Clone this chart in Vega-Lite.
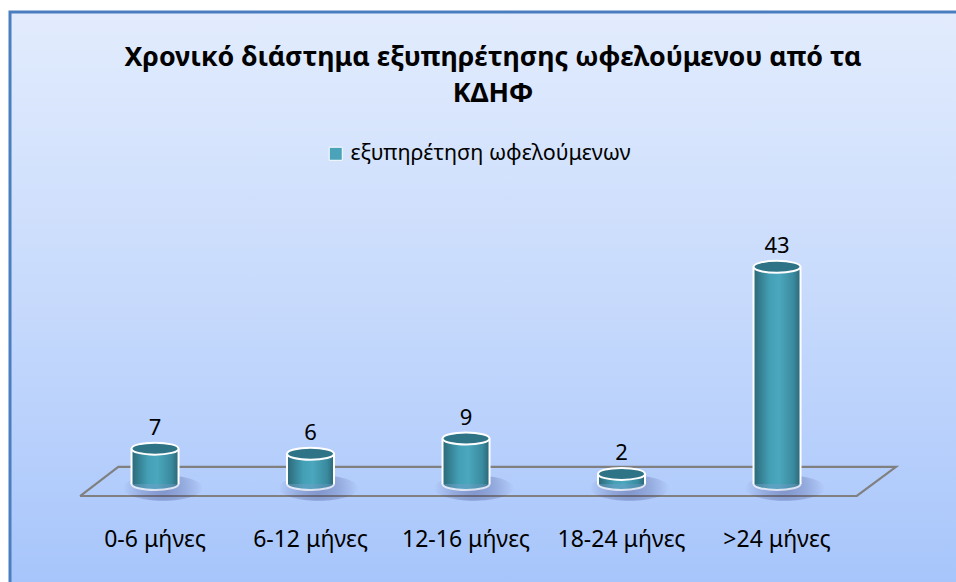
{
  "$schema": "https://vega.github.io/schema/vega-lite/v6.json",
  "autosize": {"type": "none"},
  "padding": {"left": 10, "top": 12, "right": 0, "bottom": 0},
  "width": 950,
  "height": 575,
  "background": "#ffffff",
  "title": {
    "text": ["Χρονικό διάστημα εξυπηρέτησης ωφελούμενου από τα", "ΚΔΗΦ"],
    "font": "Noto Sans",
    "fontSize": 26.8,
    "fontWeight": "bold",
    "color": "#000000",
    "anchor": "middle",
    "frame": "group",
    "orient": "top",
    "baseline": "top",
    "lineHeight": 36,
    "offset": -96,
    "dx": 8
  },
  "datasets": {
    "main": [
      {"cat": "0-6 μήνες", "value": 7, "series": "εξυπηρέτηση ωφελούμενων"},
      {"cat": "6-12 μήνες", "value": 6, "series": "εξυπηρέτηση ωφελούμενων"},
      {"cat": "12-16 μήνες", "value": 9, "series": "εξυπηρέτηση ωφελούμενων"},
      {"cat": "18-24 μήνες", "value": 2, "series": "εξυπηρέτηση ωφελούμενων"},
      {"cat": ">24 μήνες", "value": 43, "series": "εξυπηρέτηση ωφελούμενων"}
    ],
    "floor": [
      {"pos": -0.482, "level": -2.38, "k": 1},
      {"pos": 4.513, "level": -2.38, "k": 2},
      {"pos": 4.765, "level": 3.37, "k": 3},
      {"pos": -0.236, "level": 3.37, "k": 4},
      {"pos": -0.482, "level": -2.38, "k": 5}
    ]
  },
  "resolve": {"scale": {"x": "independent"}},
  "layer": [
    {
      "data": {"name": "floor"},
      "mark": {"type": "line", "stroke": "#808080", "strokeWidth": 2.2, "clip": false},
      "encoding": {
        "x": {"field": "pos", "type": "quantitative", "axis": null,
              "scale": {"domain": [-0.9325, 5.1768], "nice": false, "zero": false}},
        "y": {"field": "level", "type": "quantitative", "axis": null,
              "scale": {"domain": [-20.4, 93.47], "nice": false, "zero": false}},
        "order": {"field": "k", "type": "quantitative"}
      }
    },
    {
      "data": {"name": "main"},
      "encoding": {
        "x": {
          "field": "cat", "type": "nominal", "sort": null,
          "scale": {"paddingInner": 0, "paddingOuter": 0.5547, "align": 0.39},
          "axis": {
            "title": null, "orient": "bottom", "offset": -59, "ticks": false, "domain": false,
            "labelAngle": 0, "labelPadding": 0, "labelFont": "Noto Sans", "labelFontSize": 23,
            "labelColor": "#000000", "labelBaseline": "top", "grid": false
          }
        }
      },
      "layer": [
        {
          "mark": {"type": "point", "filled": true, "opacity": 0, "size": 10},
          "encoding": {
            "y": {"datum": 0, "type": "quantitative", "axis": null,
                  "scale": {"domain": [-20.4, 93.47], "nice": false, "zero": false}},
            "color": {
              "field": "series", "type": "nominal",
              "scale": {"range": ["#4aa3b9"]},
              "legend": {
                "title": null, "orient": "none", "legendX": 315, "legendY": 131,
                "symbolType": "square", "symbolSize": 170, "symbolOpacity": 1,
                "symbolStrokeColor": "#ffffff", "symbolStrokeWidth": 1,
                "labelFont": "Noto Sans", "labelFontSize": 21.5, "labelColor": "#000000",
                "labelOffset": 4, "labelLimit": 500
              }
            }
          }
        },
        {
          "mark": {
            "type": "point", "filled": true, "size": 6400,
            "shape": "M-1,0A1,0.32,0,1,0,1,0A1,0.32,0,1,0,-1,0Z",
            "xOffset": 8, "yOffset": 4,
            "fill": {
              "gradient": "radial",
              "stops": [
                {"offset": 0, "color": "rgba(45,55,120,0.55)"},
                {"offset": 0.55, "color": "rgba(45,55,120,0.3)"},
                {"offset": 1, "color": "rgba(45,55,120,0)"}
              ]
            }
          },
          "encoding": {"y": {"datum": 0, "type": "quantitative"}}
        },
        {
          "mark": {
            "type": "point", "filled": true, "size": 2209,
            "shape": "M-1,0A1,0.255,0,1,0,1,0A1,0.255,0,1,0,-1,0Z",
            "stroke": "#ffffff", "strokeWidth": 2, "strokeOpacity": 1,
            "fill": {
              "gradient": "linear", "x1": 0, "y1": 0, "x2": 1, "y2": 0,
              "stops": [
                {"offset": 0, "color": "#2b6878"},
                {"offset": 0.35, "color": "#44a0b6"},
                {"offset": 0.55, "color": "#4aa7bd"},
                {"offset": 0.85, "color": "#3a8a9e"},
                {"offset": 1, "color": "#2a6575"}
              ]
            }
          },
          "encoding": {"y": {"datum": 0, "type": "quantitative"}}
        },
        {
          "mark": {
            "type": "bar", "width": 47,
            "fill": {
              "gradient": "linear", "x1": 0, "y1": 0, "x2": 1, "y2": 0,
              "stops": [
                {"offset": 0, "color": "#2b6878"},
                {"offset": 0.35, "color": "#44a0b6"},
                {"offset": 0.55, "color": "#4aa7bd"},
                {"offset": 0.85, "color": "#3a8a9e"},
                {"offset": 1, "color": "#2a6575"}
              ]
            }
          },
          "encoding": {
            "y": {"field": "value", "type": "quantitative"},
            "y2": {"datum": 0}
          }
        },
        {
          "mark": {"type": "rule", "stroke": "#ffffff", "strokeWidth": 2, "xOffset": -23.5},
          "encoding": {
            "y": {"field": "value", "type": "quantitative"},
            "y2": {"datum": 0}
          }
        },
        {
          "mark": {"type": "rule", "stroke": "#ffffff", "strokeWidth": 2, "xOffset": 23.5},
          "encoding": {
            "y": {"field": "value", "type": "quantitative"},
            "y2": {"datum": 0}
          }
        },
        {
          "mark": {
            "type": "point", "filled": true, "size": 2209,
            "shape": "M-1,0A1,0.255,0,1,0,1,0A1,0.255,0,1,0,-1,0Z",
            "stroke": "#ffffff", "strokeWidth": 2, "strokeOpacity": 1,
            "fill": "#2f7486", "opacity": 1
          },
          "encoding": {"y": {"field": "value", "type": "quantitative"}}
        },
        {
          "mark": {"type": "text", "font": "Noto Sans", "fontSize": 22, "color": "#000000",
                   "baseline": "middle", "dy": -21},
          "encoding": {
            "y": {"field": "value", "type": "quantitative"},
            "text": {"field": "value", "type": "quantitative"}
          }
        }
      ]
    }
  ],
  "config": {
    "view": {
      "stroke": "#4a7ebf",
      "strokeWidth": 3,
      "fill": {
        "gradient": "linear", "x1": 0, "y1": 0, "x2": 0, "y2": 1,
        "stops": [
          {"offset": 0, "color": "#e2ecfd"},
          {"offset": 0.5, "color": "#c7dafc"},
          {"offset": 1, "color": "#a7c5fb"}
        ]
      }
    }
  }
}
